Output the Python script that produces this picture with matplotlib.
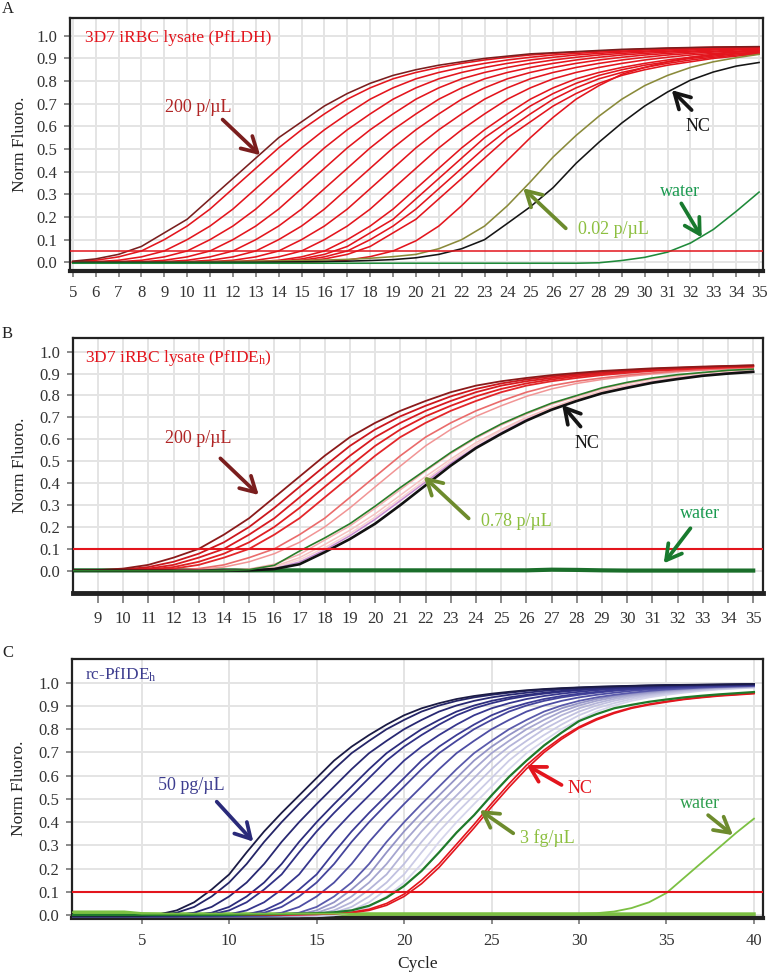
import matplotlib
matplotlib.use("Agg")
import matplotlib.pyplot as plt

plt.rcParams['font.family'] = ['Liberation Serif', 'DejaVu Serif']
plt.rcParams['mathtext.fontset'] = 'custom'
plt.rcParams['mathtext.rm'] = 'Liberation Serif'
plt.rcParams['mathtext.it'] = 'Liberation Serif:italic'

# ---------------- Panel A data (cycles 5..35) ----------------
A_start = 5
A_200 = [0.005,0.015,0.035,0.07,0.13,0.19,0.28,0.37,0.46,0.55,0.62,0.69,0.745,0.79,0.825,0.85,0.87,0.885,0.90,0.91,0.92,0.925,0.93,0.935,0.94,0.943,0.946,0.948,0.95,0.951,0.952]
A_r01 = [0.003,0.009,0.024,0.05,0.10,0.16,0.235,0.325,0.415,0.505,0.585,0.655,0.72,0.77,0.81,0.838,0.86,0.878,0.893,0.905,0.915,0.922,0.928,0.932,0.937,0.941,0.944,0.947,0.949,0.95,0.951]
A_r02 = [0,0.003,0.009,0.024,0.05,0.10,0.16,0.235,0.325,0.415,0.505,0.585,0.655,0.72,0.77,0.81,0.838,0.86,0.878,0.893,0.905,0.915,0.922,0.928,0.932,0.937,0.941,0.944,0.947,0.949,0.95]
A_r03 = [0,0,0.003,0.009,0.024,0.05,0.10,0.16,0.235,0.325,0.415,0.505,0.585,0.655,0.72,0.77,0.81,0.838,0.86,0.878,0.893,0.905,0.915,0.922,0.928,0.932,0.937,0.941,0.944,0.947,0.949]
A_r04 = [0,0,0,0.003,0.009,0.024,0.05,0.10,0.16,0.235,0.325,0.415,0.505,0.585,0.655,0.72,0.77,0.81,0.838,0.86,0.878,0.893,0.905,0.915,0.922,0.928,0.932,0.937,0.941,0.944,0.947]
A_r05 = [0,0,0,0,0.003,0.009,0.024,0.05,0.10,0.16,0.235,0.325,0.415,0.505,0.585,0.655,0.72,0.77,0.81,0.838,0.86,0.878,0.893,0.905,0.915,0.922,0.928,0.932,0.937,0.941,0.944]
A_r06 = [0,0,0,0,0,0.003,0.009,0.024,0.05,0.10,0.16,0.235,0.325,0.415,0.505,0.585,0.655,0.72,0.77,0.81,0.838,0.86,0.878,0.893,0.905,0.915,0.922,0.928,0.932,0.937,0.941]
A_r07 = [0,0,0,0,0,0,0.003,0.009,0.024,0.05,0.10,0.16,0.235,0.325,0.415,0.505,0.585,0.655,0.72,0.77,0.81,0.838,0.86,0.878,0.893,0.905,0.915,0.922,0.928,0.932,0.937]
A_r08 = [0,0,0,0,0,0,0,0.003,0.009,0.024,0.05,0.10,0.16,0.235,0.325,0.415,0.505,0.585,0.655,0.72,0.77,0.81,0.838,0.86,0.878,0.893,0.905,0.915,0.922,0.928,0.932]
A_r09 = [0,0,0,0,0,0,0,0,0.003,0.009,0.024,0.05,0.10,0.16,0.235,0.325,0.415,0.505,0.585,0.655,0.72,0.77,0.81,0.838,0.86,0.878,0.893,0.905,0.915,0.922,0.928]
A_r10 = [0,0,0,0,0,0,0,0,0.001,0.005,0.015,0.035,0.07,0.13,0.19,0.28,0.37,0.46,0.55,0.62,0.69,0.745,0.79,0.825,0.85,0.87,0.885,0.90,0.91,0.92,0.925]
A_r11 = [0,0,0,0,0,0,0,0,0,0.003,0.009,0.024,0.05,0.10,0.16,0.235,0.325,0.415,0.505,0.585,0.655,0.72,0.77,0.81,0.838,0.86,0.878,0.893,0.905,0.915,0.922]
A_r12 = [0,0,0,0,0,0,0,0,0,0.001,0.005,0.015,0.035,0.07,0.13,0.19,0.28,0.37,0.46,0.55,0.62,0.69,0.745,0.79,0.825,0.85,0.87,0.885,0.90,0.91,0.92]
A_r13 = [0,0,0,0,0,0,0,0,0,0,0,0.003,0.01,0.025,0.05,0.095,0.16,0.25,0.35,0.45,0.55,0.64,0.72,0.78,0.83,0.86,0.885,0.905,0.918,0.928,0.935]
A_002 = [0,0,0,0,0.001,0.002,0.003,0.004,0.005,0.006,0.008,0.01,0.013,0.018,0.025,0.035,0.06,0.1,0.16,0.25,0.355,0.465,0.56,0.645,0.72,0.78,0.825,0.86,0.885,0.903,0.918]
A_nc = [0,0,0,0,0,0,0,0,0,0.001,0.002,0.003,0.005,0.008,0.012,0.02,0.035,0.06,0.1,0.172,0.245,0.33,0.437,0.53,0.615,0.69,0.752,0.804,0.84,0.866,0.882]
A_water = [-0.004,-0.004,-0.004,-0.004,-0.004,-0.004,-0.004,-0.004,-0.004,-0.004,-0.004,-0.004,-0.004,-0.004,-0.004,-0.004,-0.004,-0.004,-0.004,-0.004,-0.004,-0.004,-0.004,-0.002,0.008,0.022,0.045,0.085,0.145,0.225,0.31]
A_threshold = 0.05
A_xticks = list(range(5, 36))

# ---------------- Panel B data (cycles 8..35) ----------------
B_start = 8
B_200 = [0.0,0.003,0.01,0.027,0.06,0.1,0.165,0.24,0.335,0.43,0.525,0.61,0.675,0.73,0.775,0.815,0.845,0.865,0.88,0.893,0.903,0.912,0.918,0.924,0.928,0.932,0.935,0.938]
B_r1 = [0.0,0.001,0.006,0.017,0.041,0.078,0.13,0.2,0.287,0.383,0.478,0.57,0.645,0.705,0.753,0.796,0.83,0.855,0.873,0.887,0.898,0.908,0.915,0.921,0.926,0.93,0.934,0.937]
B_r2 = [0.0,0.0,0.003,0.01,0.027,0.06,0.1,0.165,0.24,0.335,0.43,0.525,0.61,0.675,0.73,0.775,0.815,0.845,0.865,0.88,0.893,0.903,0.912,0.918,0.924,0.928,0.932,0.935]
B_r3 = [0.0,0.0,0.001,0.006,0.017,0.041,0.078,0.13,0.2,0.287,0.383,0.478,0.57,0.645,0.705,0.753,0.796,0.83,0.855,0.873,0.887,0.898,0.908,0.915,0.921,0.926,0.93,0.934]
B_r4 = [0.0,0.0,0.0,0.003,0.01,0.027,0.06,0.1,0.165,0.24,0.335,0.43,0.525,0.61,0.675,0.73,0.775,0.815,0.845,0.865,0.88,0.893,0.903,0.912,0.918,0.924,0.928,0.932]
B_r5 = [0.0,0.0,0.0,0.0,0.003,0.01,0.027,0.06,0.1,0.165,0.24,0.335,0.43,0.525,0.61,0.675,0.73,0.775,0.815,0.845,0.865,0.88,0.893,0.903,0.912,0.918,0.924,0.928]
B_r6 = [0.0,0.0,0.0,0.0,0.001,0.006,0.017,0.041,0.078,0.13,0.2,0.287,0.383,0.478,0.57,0.645,0.705,0.753,0.796,0.83,0.855,0.873,0.887,0.898,0.908,0.915,0.921,0.926]
B_pink1 = [0,0,0,0,0,0,0.002,0.008,0.03,0.075,0.14,0.205,0.285,0.37,0.455,0.535,0.605,0.665,0.715,0.76,0.795,0.83,0.855,0.875,0.89,0.903,0.912,0.918]
B_pink2 = [0,0,0,0,0,0,0,0.005,0.02,0.06,0.12,0.185,0.26,0.345,0.43,0.51,0.585,0.645,0.7,0.745,0.785,0.82,0.845,0.865,0.882,0.895,0.905,0.912]
B_pink3 = [0,0,0,0,0,0,0,0.004,0.015,0.05,0.105,0.17,0.245,0.33,0.415,0.5,0.575,0.64,0.695,0.74,0.78,0.815,0.84,0.862,0.88,0.893,0.903,0.91]
B_violet = [0,0,0,0,0,0,0,0.003,0.01,0.04,0.095,0.16,0.235,0.32,0.405,0.49,0.565,0.63,0.69,0.735,0.775,0.81,0.838,0.86,0.878,0.892,0.902,0.91]
B_078 = [0,0,0,0,0,0,0,0.005,0.025,0.09,0.15,0.215,0.295,0.38,0.46,0.54,0.61,0.67,0.72,0.765,0.80,0.835,0.86,0.88,0.895,0.905,0.915,0.92]
B_nc = [0,0,0,0,0,0,0,0.002,0.008,0.03,0.085,0.145,0.215,0.3,0.39,0.48,0.56,0.625,0.685,0.735,0.775,0.81,0.835,0.858,0.875,0.89,0.9,0.908]
B_water = [0.002,0.002,0.002,0.002,0.002,0.002,0.002,0.002,0.002,0.002,0.002,0.002,0.002,0.002,0.002,0.002,0.002,0.002,0.002,0.005,0.004,0.002,0.001,0.001,0.001,0.001,0.001,0.001]
B_threshold = 0.1
B_xticks = list(range(9, 36))

# ---------------- Panel C data (cycles 1..40) ----------------
C_start = 1
C_50 = [-0.005,-0.005,-0.005,-0.005,-0.004,0.003,0.02,0.055,0.11,0.175,0.27,0.36,0.44,0.515,0.59,0.665,0.725,0.775,0.82,0.86,0.89,0.912,0.93,0.943,0.953,0.961,0.968,0.973,0.977,0.98,0.983,0.985,0.987,0.989,0.99,0.991,0.992,0.993,0.994,0.995]
C_n1 = [-0.005,-0.005,-0.005,-0.005,-0.005,-0.001,0.01,0.035,0.08,0.14,0.22,0.315,0.4,0.478,0.553,0.628,0.697,0.75,0.8,0.84,0.876,0.902,0.922,0.937,0.948,0.957,0.965,0.971,0.975,0.979,0.982,0.984,0.986,0.988,0.99,0.99,0.991,0.992,0.993,0.994]
C_n2 = [-0.005,-0.005,-0.005,-0.005,-0.005,-0.005,-0.001,0.01,0.035,0.08,0.14,0.22,0.315,0.4,0.478,0.553,0.628,0.697,0.75,0.8,0.84,0.876,0.902,0.922,0.937,0.948,0.957,0.965,0.971,0.975,0.979,0.982,0.984,0.986,0.988,0.99,0.99,0.991,0.992,0.993]
C_n3 = [-0.005,-0.005,-0.005,-0.005,-0.005,-0.005,-0.005,-0.001,0.01,0.035,0.08,0.14,0.22,0.315,0.4,0.478,0.553,0.628,0.697,0.75,0.8,0.84,0.876,0.902,0.922,0.937,0.948,0.957,0.965,0.971,0.975,0.979,0.982,0.984,0.986,0.988,0.99,0.99,0.991,0.992]
C_n4 = [-0.005,-0.005,-0.005,-0.005,-0.005,-0.005,-0.005,-0.004,0.003,0.02,0.055,0.11,0.175,0.27,0.36,0.44,0.515,0.59,0.665,0.725,0.775,0.82,0.86,0.89,0.912,0.93,0.943,0.953,0.961,0.968,0.973,0.977,0.98,0.983,0.985,0.987,0.989,0.99,0.991,0.992]
C_n5 = [-0.005,-0.005,-0.005,-0.005,-0.005,-0.005,-0.005,-0.005,-0.004,0.003,0.02,0.055,0.11,0.175,0.27,0.36,0.44,0.515,0.59,0.665,0.725,0.775,0.82,0.86,0.89,0.912,0.93,0.943,0.953,0.961,0.968,0.973,0.977,0.98,0.983,0.985,0.987,0.989,0.99,0.991]
C_n6 = [-0.005,-0.005,-0.005,-0.005,-0.005,-0.005,-0.005,-0.005,-0.005,-0.004,0.003,0.02,0.055,0.11,0.175,0.27,0.36,0.44,0.515,0.59,0.665,0.725,0.775,0.82,0.86,0.89,0.912,0.93,0.943,0.953,0.961,0.968,0.973,0.977,0.98,0.983,0.985,0.987,0.989,0.99]
C_n7 = [-0.005,-0.005,-0.005,-0.005,-0.005,-0.005,-0.005,-0.005,-0.005,-0.005,-0.001,0.01,0.035,0.08,0.14,0.22,0.315,0.4,0.478,0.553,0.628,0.697,0.75,0.8,0.84,0.876,0.902,0.922,0.937,0.948,0.957,0.965,0.971,0.975,0.979,0.982,0.984,0.986,0.988,0.99]
C_n8 = [-0.005,-0.005,-0.005,-0.005,-0.005,-0.005,-0.005,-0.005,-0.005,-0.005,-0.005,-0.001,0.01,0.035,0.08,0.14,0.22,0.315,0.4,0.478,0.553,0.628,0.697,0.75,0.8,0.84,0.876,0.902,0.922,0.937,0.948,0.957,0.965,0.971,0.975,0.979,0.982,0.984,0.986,0.988]
C_n9 = [-0.005,-0.005,-0.005,-0.005,-0.005,-0.005,-0.005,-0.005,-0.005,-0.005,-0.005,-0.005,-0.001,0.01,0.035,0.08,0.14,0.22,0.315,0.4,0.478,0.553,0.628,0.697,0.75,0.8,0.84,0.876,0.902,0.922,0.937,0.948,0.957,0.965,0.971,0.975,0.979,0.982,0.984,0.986]
C_l1 = [-0.005,-0.005,-0.005,-0.005,-0.005,-0.005,-0.005,-0.005,-0.005,-0.005,-0.005,-0.005,-0.004,0.003,0.02,0.055,0.11,0.175,0.27,0.36,0.44,0.515,0.59,0.665,0.725,0.775,0.82,0.86,0.89,0.912,0.93,0.943,0.953,0.961,0.968,0.973,0.977,0.98,0.983,0.985]
C_l2 = [-0.005,-0.005,-0.005,-0.005,-0.005,-0.005,-0.005,-0.005,-0.005,-0.005,-0.005,-0.005,-0.005,-0.001,0.01,0.035,0.08,0.14,0.22,0.315,0.4,0.478,0.553,0.628,0.697,0.75,0.8,0.84,0.876,0.902,0.922,0.937,0.948,0.957,0.965,0.971,0.975,0.979,0.982,0.984]
C_l3 = [-0.005,-0.005,-0.005,-0.005,-0.005,-0.005,-0.005,-0.005,-0.005,-0.005,-0.005,-0.005,-0.005,-0.004,0.003,0.02,0.055,0.11,0.175,0.27,0.36,0.44,0.515,0.59,0.665,0.725,0.775,0.82,0.86,0.89,0.912,0.93,0.943,0.953,0.961,0.968,0.973,0.977,0.98,0.983]
C_l4 = [-0.005,-0.005,-0.005,-0.005,-0.005,-0.005,-0.005,-0.005,-0.005,-0.005,-0.005,-0.005,-0.005,-0.005,-0.001,0.01,0.035,0.08,0.14,0.22,0.315,0.4,0.478,0.553,0.628,0.697,0.75,0.8,0.84,0.876,0.902,0.922,0.937,0.948,0.957,0.965,0.971,0.975,0.979,0.982]
C_l5 = [-0.005,-0.005,-0.005,-0.005,-0.005,-0.005,-0.005,-0.005,-0.005,-0.005,-0.005,-0.005,-0.005,-0.005,-0.004,0.003,0.02,0.055,0.11,0.175,0.27,0.36,0.44,0.515,0.59,0.665,0.725,0.775,0.82,0.86,0.89,0.912,0.93,0.943,0.953,0.961,0.968,0.973,0.977,0.98]
C_l6 = [-0.005,-0.005,-0.005,-0.005,-0.005,-0.005,-0.005,-0.005,-0.005,-0.005,-0.005,-0.005,-0.005,-0.005,-0.005,-0.001,0.01,0.035,0.08,0.14,0.22,0.315,0.4,0.478,0.553,0.628,0.697,0.75,0.8,0.84,0.876,0.902,0.922,0.937,0.948,0.957,0.965,0.971,0.975,0.979]
C_3fg = [0,0,0,0,0,0,0,0,0,0,0.002,0.003,0.004,0.006,0.008,0.012,0.02,0.04,0.075,0.125,0.19,0.27,0.355,0.43,0.515,0.595,0.665,0.73,0.785,0.835,0.865,0.89,0.905,0.918,0.928,0.937,0.944,0.95,0.955,0.96]
C_nc1 = [0,0,0,0,0,0,0,0,0,0,0,0,0.001,0.002,0.003,0.006,0.012,0.025,0.05,0.09,0.15,0.22,0.305,0.39,0.48,0.565,0.645,0.71,0.765,0.81,0.845,0.872,0.893,0.908,0.92,0.93,0.938,0.945,0.95,0.955]
C_nc2 = [0,0,0,0,0,0,0,0,0,0,0,0,0.001,0.002,0.003,0.005,0.01,0.02,0.042,0.08,0.135,0.205,0.29,0.375,0.465,0.55,0.63,0.7,0.757,0.805,0.84,0.868,0.89,0.905,0.917,0.928,0.936,0.943,0.948,0.953]
C_water1 = [0.012,0.012,0.012,0.012,0.006,0.006,0.006,0.006,0.006,0.006,0.006,0.006,0.006,0.006,0.006,0.006,0.006,0.006,0.006,0.006,0.006,0.006,0.006,0.006,0.006,0.006,0.006,0.006,0.006,0.006,0.008,0.015,0.03,0.055,0.095,0.16,0.225,0.29,0.355,0.415]
C_water2 = [0.012,0.012,0.012,0.012,0.005,0.004,0.004,0.004,0.004,0.004,0.004,0.004,0.004,0.004,0.004,0.004,0.004,0.004,0.004,0.004,0.004,0.004,0.004,0.004,0.004,0.004,0.004,0.004,0.004,0.004,0.004,0.004,0.004,0.004,0.004,0.004,0.004,0.004,0.004,0.004]
C_threshold = 0.1
C_xticks = [5, 10, 15, 20, 25, 30, 35, 40]

Y_TICKS = [0.0, 0.1, 0.2, 0.3, 0.4, 0.5, 0.6, 0.7, 0.8, 0.9, 1.0]


def cyc(start, vals, n):
    assert len(vals) == n, (len(vals), n)
    return list(range(start, start + len(vals)))


W, H = 769, 973
fig = plt.figure(figsize=(W / 100, H / 100), dpi=100)


def px_axes(l, r, t, b):
    return fig.add_axes([l / W, 1 - b / H, (r - l) / W, (b - t) / H])


def style(ax, xticks, xlim, ylim, vgrid):
    ax.set_xlim(*xlim)
    ax.set_ylim(*ylim)
    ax.set_xticks(xticks)
    ax.set_yticks(Y_TICKS)
    ax.set_yticklabels([f"{v:.1f}" for v in Y_TICKS])
    ax.grid(True, axis='y', color='#e4e4e4', lw=1.4)
    if vgrid:
        ax.grid(True, axis='x', color='#e4e4e4', lw=1.4)
    ax.set_axisbelow(True)
    ax.tick_params(direction='out', length=4.5, width=1.2, color='#777777',
                   labelsize=12, labelcolor='#333333', pad=4.5)
    ax.tick_params(axis='x', pad=6)
    for s in ax.spines.values():
        s.set_linewidth(1.6)
        s.set_color('#222222')
    ax.spines['bottom'].set_linewidth(3.0)
    ax.set_ylabel('Norm Fluoro.', fontsize=12.5, color='#222222')


def arrow(ax, tip, start, color, lw=2.7):
    ax.annotate('', xy=tip, xytext=start,
                arrowprops=dict(arrowstyle='->,head_length=0.6,head_width=0.34',
                                color=color, lw=lw, shrinkA=0, shrinkB=0,
                                mutation_scale=18),
                annotation_clip=False, zorder=20)


FS = 13

# ================= Panel A =================
axA = px_axes(70, 763, 18.3, 270.7)
style(axA, A_xticks, (4.88, 35.17), (-0.037, 1.077), True)
axA.yaxis.set_label_coords(-0.061, 0.5)
n = 31
for ys in [A_r01, A_r02, A_r03, A_r04, A_r05, A_r06, A_r07, A_r08, A_r09,
           A_r10, A_r11, A_r12, A_r13]:
    axA.plot(cyc(A_start, ys, n), ys, color='#e3151d', lw=1.15, zorder=3)
axA.plot(cyc(A_start, A_200, n), A_200, color='#7a1e1e', lw=1.15, zorder=4)
axA.plot(cyc(A_start, A_002, n), A_002, color='#8a8a3a', lw=1.15, zorder=3)
axA.plot(cyc(A_start, A_nc, n), A_nc, color='#151515', lw=1.15, zorder=3)
axA.plot(cyc(A_start, A_water, n), A_water, color='#1f8a3a', lw=1.15, zorder=3)
axA.axhline(A_threshold, color='#e3151d', lw=1.1, zorder=5)
axA.text(5.54, 0.988, '3D7 iRBC lysate (PfLDH)', color='#e3151d', fontsize=12.5,
         ha='left', va='center')
axA.text(10.48, 0.685, '200 p/µL', color='#b02525', fontsize=FS, ha='center', va='center')
arrow(axA, (13.19, 0.473), (11.55, 0.63), '#7a1e1e')
axA.text(32.34, 0.598, 'NC', color='#151515', fontsize=FS, ha='center', va='center')
arrow(axA, (31.18, 0.76), (32.05, 0.672), '#151515')
axA.text(28.63, 0.143, '0.02 p/µL', color='#8cbf3f', fontsize=FS, ha='center', va='center')
arrow(axA, (24.69, 0.327), (26.55, 0.15), '#6d8b2d')
axA.text(31.54, 0.312, 'water', color='#1a9a50', fontsize=FS, ha='center', va='center')
arrow(axA, (32.49, 0.11), (31.6, 0.26), '#187a2e')

# ================= Panel B =================
axB = px_axes(72.7, 763.3, 338.3, 592.7)
style(axB, B_xticks, (8.0, 35.4), (-0.1, 1.061), True)
axB.tick_params(axis='x', length=7)
axB.spines['bottom'].set_linewidth(3.5)
axB.yaxis.set_label_coords(-0.065, 0.5)
n = 28
axB.plot(cyc(B_start, B_water, n), B_water, color='#1a6e2a', lw=3.0, zorder=2)
b_specs = [(B_pink3, '#f8d2d2', 1.1), (B_pink2, '#f6c2c2', 1.1), (B_pink1, '#f3b0b0', 1.1),
           (B_violet, '#c68ad0', 1.1), (B_r6, '#f19595', 1.1), (B_r5, '#ea6b6b', 1.2),
           (B_r4, '#e3262a', 1.3), (B_r3, '#df1f22', 1.3), (B_r2, '#d81a20', 1.3),
           (B_r1, '#cc171d', 1.3), (B_200, '#8b1a1a', 1.3)]
for ys, col, lw in b_specs:
    axB.plot(cyc(B_start, ys, n), ys, color=col, lw=lw, zorder=3)
axB.plot(cyc(B_start, B_078, n), B_078, color='#2a7d2a', lw=1.2, zorder=4)
axB.plot(cyc(B_start, B_nc, n), B_nc, color='#111111', lw=1.9, zorder=3)
axB.axhline(B_threshold, color='#e3151d', lw=1.5, zorder=5)
axB.text(8.5, 0.97, '3D7 iRBC lysate (PfIDE$_{\\mathregular{h}}$)', color='#e3151d',
         fontsize=12.5, ha='left', va='center')
axB.text(12.97, 0.605, '200 p/µL', color='#b02525', fontsize=FS, ha='center', va='center')
arrow(axB, (15.38, 0.346), (13.86, 0.513), '#7a1e1e')
axB.text(28.41, 0.582, 'NC', color='#151515', fontsize=FS, ha='center', va='center')
arrow(axB, (27.42, 0.757), (28.15, 0.658), '#151515')
axB.text(25.6, 0.224, '0.78 p/µL', color='#8cbf3f', fontsize=FS, ha='center', va='center')
arrow(axB, (21.93, 0.43), (23.71, 0.239), '#6d8b2d')
axB.text(32.91, 0.262, 'water', color='#1a9a50', fontsize=FS, ha='center', va='center')
arrow(axB, (31.45, 0.034), (32.51, 0.194), '#187a2e')

# ================= Panel C =================
axC = px_axes(71.7, 762.7, 659.3, 918.3)
style(axC, C_xticks, (1.0, 40.5), (-0.014, 1.101), True)
axC.yaxis.set_label_coords(-0.064, 0.5)
n = 40
axC.plot(cyc(C_start, C_water2, n), C_water2, color='#7cc043', lw=2.6, zorder=2)
c_specs = [(C_l6, '#d6d6ec'), (C_l5, '#cccce6'), (C_l4, '#c1c1e0'), (C_l3, '#b4b4d8'),
           (C_l2, '#a5a5cf'), (C_l1, '#9494c6'), (C_n9, '#5a5aab'), (C_n8, '#4d4da3'),
           (C_n7, '#45459c'), (C_n6, '#3c3c95'), (C_n5, '#36368d'), (C_n4, '#313186'),
           (C_n3, '#2c2c7c'), (C_n2, '#282872'), (C_n1, '#252568'), (C_50, '#1b1b45')]
for ys, col in c_specs:
    axC.plot(cyc(C_start, ys, n), ys, color=col, lw=1.3, zorder=3)
axC.plot(cyc(C_start, C_nc2, n), C_nc2, color='#e3151d', lw=1.2, zorder=4)
axC.plot(cyc(C_start, C_nc1, n), C_nc1, color='#e3151d', lw=1.2, zorder=4)
axC.plot(cyc(C_start, C_3fg, n), C_3fg, color='#1f7a2a', lw=1.6, zorder=4)
axC.plot(cyc(C_start, C_water1, n), C_water1, color='#7cc043', lw=1.3, zorder=4)
axC.axhline(C_threshold, color='#e3151d', lw=1.5, zorder=5)
axC.text(1.76, 1.033, 'rc-PfIDE$_{\\mathregular{h}}$', color='#3d3d8f', fontsize=12.5,
         ha='left', va='center')
axC.text(7.81, 0.557, '50 pg/µL', color='#3d3d8f', fontsize=FS, ha='center', va='center')
arrow(axC, (11.38, 0.316), (9.29, 0.488), '#2a2a7a')
axC.text(30.05, 0.545, 'NC', color='#e3151d', fontsize=FS, ha='center', va='center')
arrow(axC, (27.0, 0.646), (29.0, 0.56), '#e3151d')
axC.text(28.19, 0.33, '3 fg/µL', color='#8cbf3f', fontsize=FS, ha='center', va='center')
arrow(axC, (24.33, 0.452), (26.24, 0.352), '#6d8b2d')
axC.text(36.9, 0.481, 'water', color='#2e9e4e', fontsize=FS, ha='center', va='center')
arrow(axC, (38.8, 0.344), (37.38, 0.43), '#6d8b2d')
axC.set_xlabel('Cycle', fontsize=12.5, color='#222222')
axC.xaxis.set_label_coords(0.5, -0.145)

# panel letters
fig.text(2 / W, 1 - 9 / H, 'A', fontsize=12, va='center', ha='left', color='#222222')
fig.text(2 / W, 1 - 334 / H, 'B', fontsize=12, va='center', ha='left', color='#222222')
fig.text(2 / W, 1 - 653 / H, 'C', fontsize=12, va='center', ha='left', color='#222222')

fig.savefig('out.png', dpi=100)
